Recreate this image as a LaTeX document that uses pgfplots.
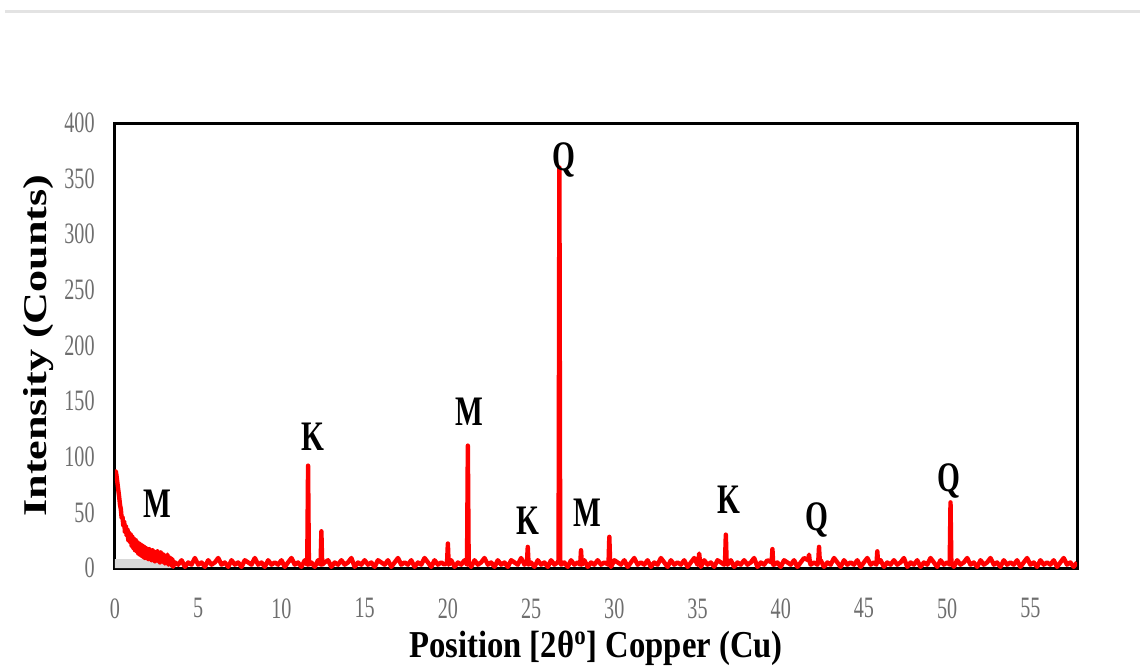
\documentclass[border=0pt]{standalone}
\usepackage{fontspec}
\setmainfont{Liberation Serif}
\newfontfamily\tickfont[FakeStretch=0.68]{Liberation Serif}
\newfontfamily\annfont[FakeStretch=0.7]{Liberation Serif}
\newfontfamily\xlblfont[FakeStretch=0.86]{Liberation Serif}
\newfontfamily\ylblfont[FakeStretch=1.33]{Liberation Serif}
\usepackage{pgfplots}
\pgfplotsset{compat=1.18}
\definecolor{tickgray}{RGB}{110,110,110}
\begin{document}
\begin{tikzpicture}
\path[use as bounding box] (-57.5pt,-48.5pt) rectangle (512.5pt,284pt);
\draw[gray!22, line width=1.5pt] (-55pt,278pt) -- (512.5pt,278pt);
\begin{axis}[
  at={(0,0)}, anchor=south west,
  width=481pt, height=222.5pt, scale only axis,
  xmin=0, xmax=57.8, ymin=0, ymax=400,
  xtick={0,5,...,55}, ytick={0,50,...,400},
  major tick length=0pt,
  axis line style={line width=1.5pt, black},
  /pgf/number format/assume math mode=true,
  xticklabel style={font=\tickfont\fontsize{14.8}{15}\selectfont, text=tickgray, anchor=north, inner sep=0pt, yshift=-15pt},
  yticklabel style={font=\tickfont\fontsize{14.8}{15}\selectfont, text=tickgray, anchor=east, inner sep=0pt, xshift=-10pt},
  xlabel={Position [2θ\textsuperscript{o}] Copper (Cu)},
  xlabel style={font=\xlblfont\bfseries\fontsize{19}{20}\selectfont, at={(axis description cs:0.5,0)}, anchor=base, yshift=-44.5pt},
  ylabel={Intensity (Counts)},
  ylabel style={font=\ylblfont\bfseries\fontsize{16.6}{17}\selectfont, at={(axis description cs:-0.0717,0.5)}, anchor=base},
]
\addplot[fill=gray!30, draw=none] coordinates {(0,0)(0,8)(3.5,8)(3.5,0)} \closedcycle;
\addplot[red, line width=2.2pt, line join=round, mark=none] table[row sep=\\] {
x y\\
0 80\\0.05 87\\0.1 82\\0.15 76\\0.2 70\\0.25 64\\0.3 57\\0.35 53\\0.4 45\\0.45 46\\
0.5 38\\0.55 42\\0.6 32\\0.65 38\\0.7 29\\0.75 35\\0.8 25\\0.85 32\\0.9 23\\0.95 30\\
1.0 20\\1.05 28\\1.1 18\\1.15 26\\1.2 16\\1.25 25\\1.3 15\\1.35 23\\1.4 13\\1.45 22\\
1.5 12\\1.55 21\\1.6 11\\1.65 20\\1.7 10\\1.75 19\\1.8 9\\1.85 18\\1.9 10\\1.95 17\\
2.0 8\\2.05 17\\2.1 9\\2.15 16\\2.2 7\\2.25 16\\2.3 8\\2.35 15\\2.4 6\\2.45 14\\
2.5 7\\2.55 15\\2.6 6\\2.65 13\\2.7 5\\2.75 14\\2.8 6\\2.85 13\\2.9 5\\2.95 12\\
3.0 4\\3.05 11\\3.1 5\\3.15 12\\3.2 3\\3.25 10\\3.3 4\\3.35 9\\3.4 2\\3.45 8\\3.5 1\\3.55 5\\
3.6 5\\3.8 3\\4.0 7\\4.2 1\\4.4 5\\4.6 3\\4.8 9\\5.0 3\\5.2 5\\5.4 1\\
5.6 7\\5.8 3\\6.0 5\\6.2 9\\6.4 3\\6.6 5\\6.8 1\\7.0 7\\7.2 3\\7.4 5\\
7.6 1\\7.8 7\\8.0 5\\8.2 3\\8.4 9\\8.6 3\\8.8 5\\9.0 1\\9.2 7\\9.4 3\\
9.6 5\\9.8 3\\10.0 7\\10.2 1\\10.4 5\\10.6 9\\10.8 3\\11.0 5\\11.2 1\\11.4 7\\
11.55 3\\11.6 92\\11.65 3\\11.8 5\\12.0 1\\12.2 7\\12.35 3\\12.4 33\\12.45 3\\12.6 5\\12.8 7\\13.0 1\\13.2 5\\13.4 3\\
13.6 7\\13.8 3\\14.0 5\\14.2 9\\14.4 1\\14.6 5\\14.8 3\\15.0 7\\15.2 3\\15.4 5\\
15.6 1\\15.8 7\\16.0 5\\16.2 3\\16.4 7\\16.6 1\\16.8 5\\17.0 9\\17.2 3\\17.4 5\\
17.6 3\\17.8 7\\18.0 1\\18.2 5\\18.4 3\\18.6 9\\18.8 5\\19.0 1\\19.2 7\\19.4 3\\
19.6 5\\19.8 3\\19.95 5\\20.0 22\\20.05 3\\20.2 7\\20.4 1\\20.6 5\\20.8 3\\21.0 7\\21.15 3\\21.2 110\\21.25 5\\21.4 1\\
21.6 7\\21.8 3\\22.0 5\\22.2 9\\22.4 3\\22.6 5\\22.8 1\\23.0 7\\23.2 3\\23.4 5\\
23.6 1\\23.8 7\\24.0 5\\24.2 3\\24.4 9\\24.6 3\\24.75 5\\24.8 19\\24.85 3\\25.0 5\\25.2 1\\25.4 7\\
25.6 3\\25.8 5\\26.0 1\\26.2 7\\26.4 3\\26.6 5\\26.65 7\\26.7 360\\26.75 7\\26.8 3\\27.0 5\\27.2 1\\27.4 7\\
27.6 3\\27.8 5\\27.95 3\\28.0 16\\28.05 3\\28.2 7\\28.4 1\\28.6 5\\28.8 3\\29.0 7\\29.2 3\\29.4 5\\29.65 3\\29.7 28\\29.75 5\\
29.8 1\\30.0 7\\30.2 5\\30.4 3\\30.6 7\\30.8 1\\31.0 5\\31.2 9\\31.4 3\\31.6 5\\
31.8 3\\32.0 7\\32.2 1\\32.4 5\\32.6 3\\32.8 9\\33.0 5\\33.2 1\\33.4 7\\33.6 3\\
33.8 5\\34.0 3\\34.2 7\\34.4 1\\34.6 5\\34.8 9\\35.0 3\\35.05 5\\35.1 13\\35.15 5\\35.2 1\\35.4 7\\35.6 3\\
35.8 5\\36.0 1\\36.2 7\\36.4 5\\36.6 3\\36.65 5\\36.7 30\\36.75 5\\36.8 3\\37.0 7\\37.2 1\\37.4 5\\37.6 3\\
37.8 7\\38.0 3\\38.2 5\\38.4 9\\38.6 1\\38.8 5\\39.0 3\\39.2 7\\39.45 5\\39.5 17\\39.55 3\\39.6 3\\39.8 5\\
40.0 1\\40.2 7\\40.4 5\\40.6 3\\40.8 7\\41.0 1\\41.2 5\\41.4 9\\41.65 7\\41.7 12\\41.75 5\\41.8 3\\42.0 5\\
42.2 3\\42.25 5\\42.3 19\\42.35 5\\42.4 7\\42.6 1\\42.8 5\\43.0 3\\43.2 9\\43.4 5\\43.6 1\\43.8 7\\
44.0 3\\44.2 5\\44.4 3\\44.6 7\\44.8 1\\45.0 5\\45.2 9\\45.4 3\\45.6 5\\45.75 3\\45.8 15\\45.85 5\\
46.0 7\\46.2 1\\46.4 5\\46.6 3\\46.8 7\\47.0 3\\47.2 5\\47.4 9\\47.6 1\\47.8 5\\
48.0 3\\48.2 7\\48.4 1\\48.6 5\\48.8 3\\49.0 9\\49.2 5\\49.4 1\\49.6 7\\49.8 3\\
50.0 5\\50.15 3\\50.2 59\\50.25 5\\50.4 1\\50.6 7\\50.8 3\\51.0 5\\51.2 9\\51.4 3\\51.6 5\\
51.8 1\\52.0 7\\52.2 3\\52.4 5\\52.6 9\\52.8 3\\53.0 5\\53.2 1\\53.4 7\\53.6 3\\
53.8 5\\54.0 3\\54.2 7\\54.4 1\\54.6 5\\54.8 9\\55.0 3\\55.2 5\\55.4 1\\55.6 7\\
55.8 3\\56.0 5\\56.2 3\\56.4 7\\56.6 1\\56.8 5\\57.0 9\\57.2 3\\57.4 5\\57.6 1\\57.8 5\\
};
\tikzset{ann/.style={anchor=base, inner sep=0pt, font=\annfont\bfseries\fontsize{21}{21}\selectfont}}
\node[ann] at (axis cs:2.52,45) {M};
\node[ann] at (axis cs:11.9,106) {K};
\node[ann] at (axis cs:21.3,128.5) {M};
\node[ann] at (axis cs:24.8,29.7) {K};
\node[ann] at (axis cs:27.0,357) {Q};
\node[ann] at (axis cs:28.4,37) {M};
\node[ann] at (axis cs:36.9,49.4) {K};
\node[ann] at (axis cs:42.2,34) {Q};
\node[ann] at (axis cs:50.1,69) {Q};
\end{axis}
\end{tikzpicture}
\end{document}
